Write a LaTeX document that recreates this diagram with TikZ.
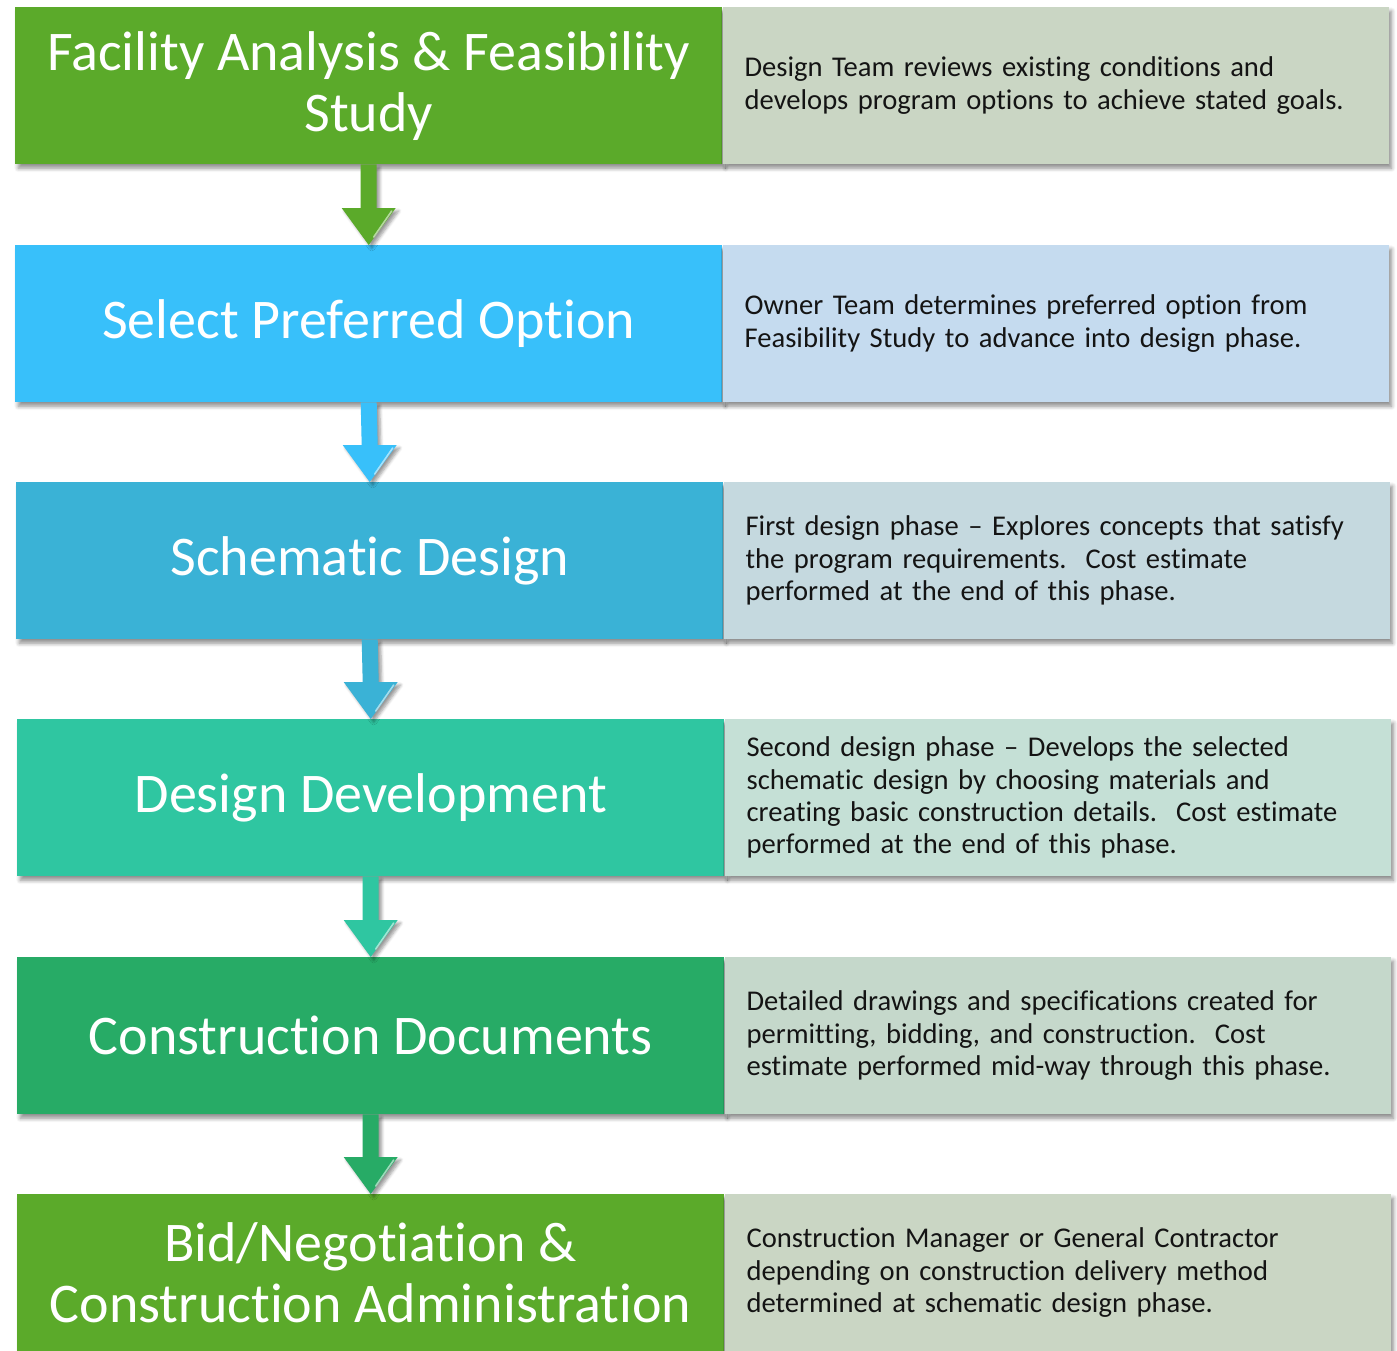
\documentclass[tikz,border=0pt]{standalone}
\usepackage{fontspec}
\setmainfont[Ligatures={TeX,NoCommon}]{Carlito}
\usetikzlibrary{calc,shadows.blur}

\definecolor{gL}{HTML}{5BAA2A}
\definecolor{gR}{HTML}{CAD6C4}
\definecolor{bL}{HTML}{38C0FA}
\definecolor{bR}{HTML}{C5DBEF}
\definecolor{tL}{HTML}{3AB2D6}
\definecolor{tR}{HTML}{C5D9DF}
\definecolor{aL}{HTML}{2FC6A1}
\definecolor{aR}{HTML}{C5E0D6}
\definecolor{eL}{HTML}{27AB66}
\definecolor{eR}{HTML}{C5D8CB}
\definecolor{ink}{HTML}{141414}

\tikzset{
  boxshadow/.style={blur shadow={shadow xshift=3pt, shadow yshift=-4pt,
      shadow blur radius=4pt, shadow blur steps=6, shadow opacity=45}},
  phase/.style={boxshadow, anchor=north west, inner sep=0pt,
      minimum width=707pt, minimum height=157pt, align=center,
      text=white, font={\fontsize{56}{61}\selectfont}},
  note/.style={boxshadow, anchor=north west, inner xsep=22pt, inner ysep=0pt,
      text width=622pt, minimum height=157pt, align=left,
      text=ink, font={\fontsize{28.6}{32.4}\selectfont}},
}

% downward block arrow from one phase box to the next
\newcommand{\flowarrow}[3]{%
  \fill[#3, blur shadow={shadow xshift=3pt, shadow yshift=-3pt,
      shadow blur radius=3pt, shadow blur steps=5, shadow opacity=40}]
    ($(#1.south)+(-8,0)$) -- ($(#2.north)+(-8,-37)$) -- ($(#2.north)+(-27,-37)$)
    -- (#2.north) -- ($(#2.north)+(27,-37)$) -- ($(#2.north)+(8,-37)$)
    -- ($(#1.south)+(8,0)$) -- cycle;
  \draw[white, opacity=0.55, line width=1.6pt, line cap=round]
    ($(#2.north)+(23,-34)$) -- ($(#2.north)+(5,-8)$);
}

\begin{document}
\begin{tikzpicture}[x=1pt, y=-1pt]
\useasboundingbox (0,0) rectangle (1397,1350);

% phase boxes (left) and their descriptions (right)
\node[phase, fill=gL] (L1) at (15,7) {Facility Analysis \& Feasibility\\Study};
\node[note, fill=gR] (R1) at (L1.north east)
  {Design Team reviews existing conditions and\\develops program options to achieve stated goals.};

\node[phase, fill=bL] (L2) at (15,245) {Select Preferred Option};
\node[note, fill=bR] (R2) at (L2.north east)
  {Owner Team determines preferred option from\\Feasibility Study to advance into design phase.};

\node[phase, fill=tL] (L3) at (16,482) {Schematic Design};
\node[note, fill=tR] (R3) at (L3.north east)
  {First design phase – Explores concepts that satisfy\\the program requirements.\ \ Cost estimate\\performed at the end of this phase.};

\node[phase, fill=aL] (L4) at (17,719) {Design Development};
\node[note, fill=aR] (R4) at (L4.north east)
  {Second design phase – Develops the selected\\schematic design by choosing materials and\\creating basic construction details.\ \ Cost estimate\\performed at the end of this phase.};

\node[phase, fill=eL] (L5) at (17,957) {Construction Documents};
\node[note, fill=eR] (R5) at (L5.north east)
  {Detailed drawings and specifications created for\\permitting, bidding, and construction.\ \ Cost\\estimate performed mid-way through this phase.};

\node[phase, fill=gL] (L6) at (17,1194) {Bid/Negotiation \&\\Construction Administration};
\node[note, fill=gR] (R6) at (L6.north east)
  {Construction Manager or General Contractor\\depending on construction delivery method\\determined at schematic design phase.};

% connectors between consecutive phases
\flowarrow{L1}{L2}{gL}
\flowarrow{L2}{L3}{bL}
\flowarrow{L3}{L4}{tL}
\flowarrow{L4}{L5}{aL}
\flowarrow{L5}{L6}{eL}
\end{tikzpicture}
\end{document}
